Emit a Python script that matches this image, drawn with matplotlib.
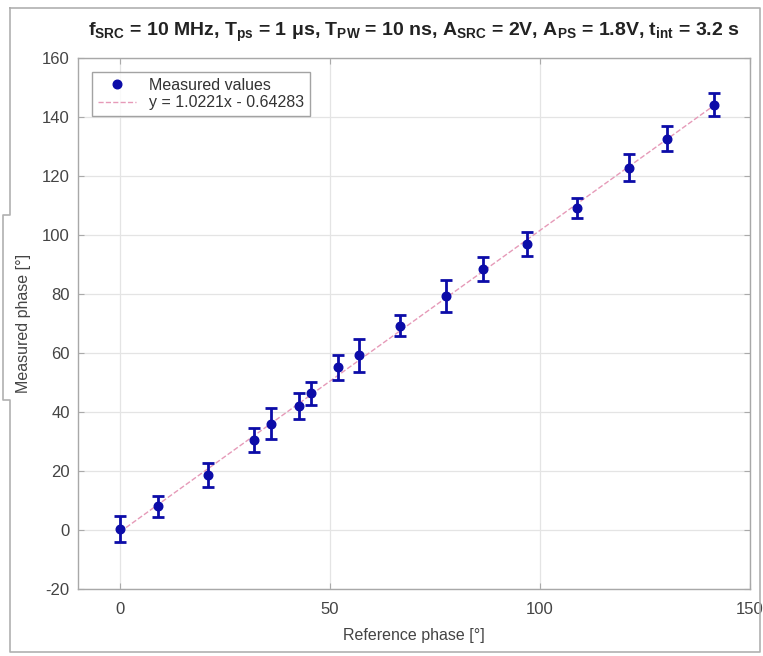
import matplotlib.pyplot as plt
from matplotlib.lines import Line2D

plt.rcParams['font.family'] = ['Liberation Sans', 'DejaVu Sans']
plt.rcParams['mathtext.fontset'] = 'custom'
plt.rcParams['mathtext.rm'] = 'Liberation Sans:bold'
plt.rcParams['mathtext.bf'] = 'Liberation Sans:bold'
plt.rcParams['mathtext.it'] = 'Liberation Sans:italic:bold'
plt.rcParams['mathtext.default'] = 'bf'
plt.rcParams['axes.unicode_minus'] = False

# reference phase vs. measured phase (degrees), with error bar half-widths
ref_phase = [0, 9, 21, 32, 36, 42.5, 45.5, 51.8, 57, 66.6, 77.5, 86.5, 96.9, 108.8, 121.3, 130.3, 141.5]
meas_phase = [0.3, 8, 18.6, 30.6, 36, 42, 46.3, 55.2, 59.2, 69.3, 79.4, 88.5, 96.9, 109.2, 122.8, 132.6, 144.2]
meas_err = [4.4, 3.6, 4, 4, 5.3, 4.3, 4, 4.2, 5.5, 3.7, 5.5, 4, 4, 3.3, 4.6, 4.2, 4]

# linear fit as given in the legend
fit_slope = 1.0221
fit_offset = -0.64283

x_ticks = [0, 50, 100, 150]
y_ticks = [-20, 0, 20, 40, 60, 80, 100, 120, 140, 160]

fig = plt.figure(figsize=(7.63, 6.56), dpi=100)
ax = fig.add_axes([78 / 763, 1 - 589 / 656, (750 - 78) / 763, (589 - 58) / 656])

# screenshot frame around the figure
W, H = 763, 656
frame_x = [10, 10, 3, 3, 10, 10, 760, 760, 10]
frame_y = [8, 215, 215, 400, 400, 652, 652, 8, 8]
fig.add_artist(Line2D([x / W for x in frame_x], [1 - y / H for y in frame_y],
                      color='#b0b0b0', lw=1.2, transform=fig.transFigure))

ax.set_axisbelow(True)
ax.grid(True, color='#e4e4e4', lw=0.9)

fit_x = [min(ref_phase), max(ref_phase)]
fit_y = [fit_slope * x + fit_offset for x in fit_x]
ax.plot(fit_x, fit_y, '--', color='#e69ab8', lw=1.0)

blue = '#0c0ca8'
ax.errorbar(ref_phase, meas_phase, yerr=meas_err, fmt='o', color=blue,
            ms=6.2, elinewidth=2.0, capsize=4.5, capthick=2.0)

ax.set_xlim(-10, 150)
ax.set_ylim(-20, 160)
ax.set_xticks(x_ticks)
ax.set_yticks(y_ticks)
ax.tick_params(direction='in', length=4, colors='#aaaaaa', labelcolor='#444444',
               labelsize=12, top=True, right=True)
ax.tick_params(axis='x', pad=9)
ax.tick_params(axis='y', pad=6)
for s in ax.spines.values():
    s.set_color('#a8a8a8')
    s.set_linewidth(1.0)

ax.set_xlabel('Reference phase [°]', fontsize=11.5, color='#444444', labelpad=8)
ax.set_ylabel('Measured phase [°]', fontsize=11.5, color='#444444', labelpad=8)

title = (r'f$_{SRC}$ = 10 MHz, T$_{ps}$ = 1 $\mu$s, T$_{PW}$ = 10 ns, '
         r'A$_{SRC}$ = 2V, A$_{PS}$ = 1.8V, t$_{int}$ = 3.2 s')
ax.set_title(title, fontsize=14, fontweight='bold', color='#222222', pad=16)

handles = [Line2D([], [], marker='o', ls='none', color=blue, ms=6.2),
           Line2D([], [], ls='--', color='#e69ab8', lw=1.0)]
labels = ['Measured values', 'y = 1.0221x - 0.64283']
leg = ax.legend(handles, labels, loc='upper left', fontsize=11.5, frameon=True,
                fancybox=False, edgecolor='#8c8c8c', borderaxespad=0.9,
                handlelength=2.4, labelspacing=0.15, borderpad=0.35)
leg.get_frame().set_linewidth(1.0)
for t in leg.get_texts():
    t.set_color('#333333')

fig.savefig('out.png', dpi=100)
